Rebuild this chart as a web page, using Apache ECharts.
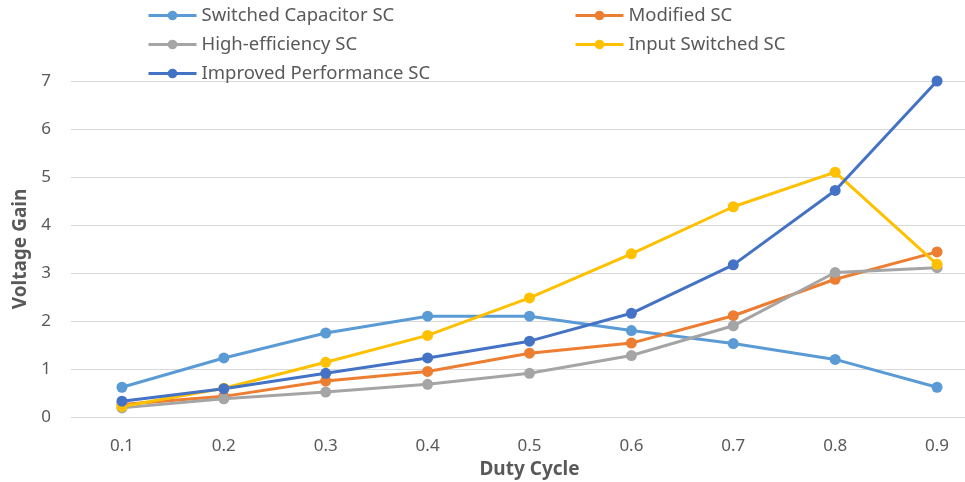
<!DOCTYPE html>
<html>
<head>
<meta charset="utf-8">
<script src="https://cdn.jsdelivr.net/npm/echarts@6/dist/echarts.min.js"></script>
<style>
  html, body { margin: 0; padding: 0; background: #fff; }
  #chart { width: 965px; height: 482px; }
</style>
</head>
<body>
<div id="chart"></div>
<script>
// Duty cycle categories on the x axis
const dutyCycle = ['0.1', '0.2', '0.3', '0.4', '0.5', '0.6', '0.7', '0.8', '0.9'];

// Voltage gain of each converter topology
const switchedCapacitor = [0.62, 1.23, 1.75, 2.10, 2.10, 1.80, 1.53, 1.20, 0.62];
const modifiedSC        = [0.26, 0.43, 0.75, 0.95, 1.33, 1.54, 2.11, 2.87, 3.44];
const highEfficiencySC  = [0.19, 0.38, 0.52, 0.68, 0.91, 1.28, 1.90, 3.01, 3.11];
const inputSwitchedSC   = [0.22, 0.60, 1.14, 1.70, 2.48, 3.40, 4.38, 5.10, 3.18];
const improvedPerfSC    = [0.33, 0.59, 0.91, 1.23, 1.58, 2.16, 3.17, 4.72, 7.00];

const seriesNames = [
  'Switched Capacitor SC',
  'Modified SC',
  'High-efficiency SC',
  'Input Switched SC',
  'Improved Performance SC'
];
const seriesData = [switchedCapacitor, modifiedSC, highEfficiencySC, inputSwitchedSC, improvedPerfSC];
const seriesColors = ['#5B9BD5', '#ED7D31', '#A5A5A5', '#FFC000', '#4472C4'];

const textColor = '#595959';
const fontFamily = 'Noto Sans, Liberation Sans, sans-serif';

const chart = echarts.init(document.getElementById('chart'), null, { renderer: 'canvas' });

// Two legend columns, laid out as a 2-wide grid of entries
const legendCommon = {
  orient: 'vertical',
  top: 6,
  padding: 0,
  itemWidth: 48,
  itemHeight: 12,
  itemGap: 10,
  lineStyle: { width: 3 },
  textStyle: { color: textColor, fontSize: 18.5, lineHeight: 18, fontFamily: fontFamily }
};

chart.setOption({
  animation: false,
  backgroundColor: '#ffffff',
  color: seriesColors,
  legend: [
    Object.assign({}, legendCommon, {
      left: 147,
      data: [seriesNames[0], seriesNames[2], seriesNames[4]]
    }),
    Object.assign({}, legendCommon, {
      left: 574,
      data: [seriesNames[1], seriesNames[3]]
    })
  ],
  grid: { left: 71, top: 81, width: 917, height: 336, outerBoundsMode: 'none', containLabel: false },
  xAxis: {
    type: 'category',
    data: dutyCycle,
    boundaryGap: true,
    name: 'Duty Cycle',
    nameLocation: 'middle',
    nameGap: 43,
    nameTextStyle: { color: textColor, fontSize: 19, fontWeight: 'bold', fontFamily: fontFamily },
    axisLine: { show: false },
    axisTick: { show: false },
    axisLabel: { color: textColor, fontSize: 17, margin: 21, fontFamily: fontFamily }
  },
  yAxis: {
    type: 'value',
    min: 0,
    max: 7,
    interval: 1,
    name: 'Voltage Gain',
    nameLocation: 'middle',
    nameGap: 39,
    nameTextStyle: { color: textColor, fontSize: 19, fontWeight: 'bold', fontFamily: fontFamily },
    axisLine: { show: false },
    axisTick: { show: false },
    axisLabel: { color: textColor, fontSize: 17, margin: 20, fontFamily: fontFamily },
    splitLine: { lineStyle: { color: '#D9D9D9', width: 1 } }
  },
  series: seriesNames.map((name, i) => ({
    name: name,
    type: 'line',
    data: seriesData[i],
    symbol: 'circle',
    symbolSize: 11,
    lineStyle: { width: 3, color: seriesColors[i] },
    itemStyle: { color: seriesColors[i] }
  }))
});
</script>
</body>
</html>
